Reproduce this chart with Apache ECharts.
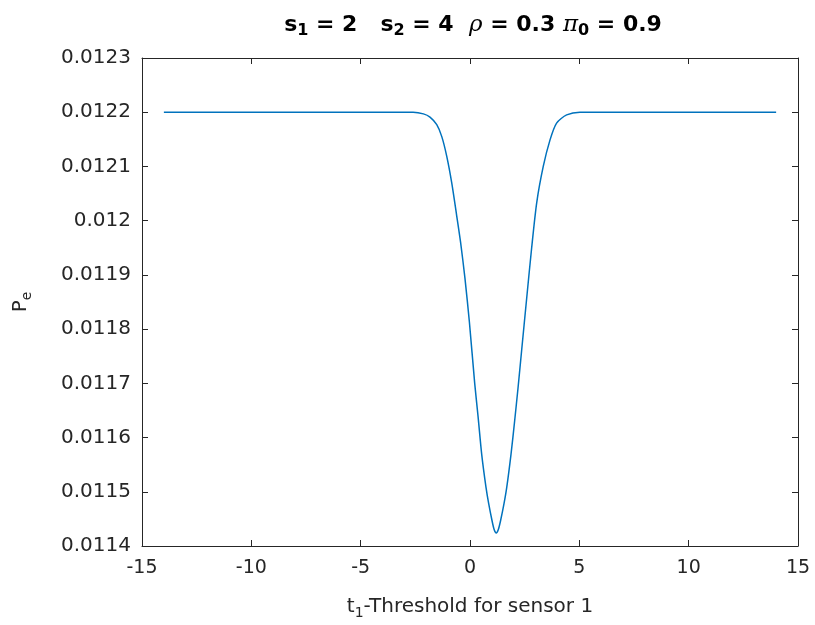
<!DOCTYPE html>
<html>
<head>
<meta charset="utf-8">
<script src="https://cdn.jsdelivr.net/npm/echarts@6/dist/echarts.min.js"></script>
<style>
  html, body { margin: 0; padding: 0; background: #fff; }
  #chart { width: 815px; height: 625px; }
</style>
</head>
<body>
<div id="chart"></div>
<script>
// threshold t1 and error probability
const t1Values = [-14, -10, -6, -4, -3, -2.6, -2.13, -1.83, -1.52, -1.29, -1.065, -0.837, -0.608, -0.43,
  -0.229, -0.03, 0.215, 0.366, 0.535, 0.732, 0.855, 1.006, 1.1, 1.2, 1.3, 1.4, 1.555, 1.68, 1.875, 2.04,
  2.195, 2.36, 2.59, 2.82, 3.05, 3.35, 3.66, 3.96, 4.42, 5.03, 6, 10, 14]
const peValues = [0.0122, 0.0122, 0.0122, 0.0122, 0.0122, 0.0122, 0.012197, 0.012191, 0.012177, 0.012155,
  0.012119, 0.012070, 0.012009, 0.011960, 0.011893, 0.011814, 0.011700, 0.011640, 0.011569, 0.011508,
  0.011478, 0.011447, 0.011431, 0.011424, 0.011431, 0.011447, 0.011478, 0.011508, 0.011569, 0.011630,
  0.011691, 0.011760, 0.011856, 0.011950, 0.012033, 0.012100, 0.012149, 0.012180, 0.012195, 0.0122,
  0.0122, 0.0122, 0.0122]
const xTicks = [-15, -10, -5, 0, 5, 10, 15]
const yTickLabels = ['0.0114', '0.0115', '0.0116', '0.0117', '0.0118', '0.0119', '0.012', '0.0121', '0.0122', '0.0123']

const axisColor = '#262626'
const fontFamily = '"DejaVu Sans", Helvetica, Arial, sans-serif'

const chart = echarts.init(document.getElementById('chart'))

const boxAxis = {
  axisLine: { show: true, onZero: false, lineStyle: { color: axisColor, width: 1 } },
  axisTick: { show: true, inside: true, length: 6, lineStyle: { color: axisColor } },
  splitLine: { show: false }
}

chart.setOption({
  animation: false,
  title: {
    left: 468,
    textAlign: 'center',
    top: 6,
    text: '{b|s}{sub|1}{b| = 2   s}{sub|2}{b| = 4  }{g|ρ}{b| = 0.3 }{g|π}{sub|0}{b| = 0.9}',
    textStyle: {
      rich: {
        b: { fontSize: 22, fontWeight: 'bold', color: '#000', fontFamily: fontFamily },
        g: { fontSize: 23, fontStyle: 'italic', fontWeight: 'normal', color: '#000', fontFamily: '"DejaVu Serif", serif' },
        sub: { fontSize: 16, fontWeight: 'bold', color: '#000', fontFamily: fontFamily, padding: [12, 0, 0, 0] }
      }
    }
  },
  grid: { left: 142, right: 17, top: 58, bottom: 76 },
  xAxis: [{
    type: 'value',
    min: -15, max: 15, interval: 5,
    ...boxAxis,
    axisLabel: {
      color: axisColor, fontSize: 19, fontFamily: fontFamily, margin: 13,
      formatter: v => xTicks.includes(v) ? String(v) : ''
    },
    name: '{n|t}{sub|1}{n|-Threshold for sensor 1}',
    nameLocation: 'middle',
    nameGap: 48,
    nameTextStyle: {
      rich: {
        n: { fontSize: 20, color: axisColor, fontFamily: fontFamily },
        sub: { fontSize: 14, color: axisColor, fontFamily: fontFamily, padding: [12, 0, 0, 0] }
      }
    }
  }, {
    type: 'value', position: 'top',
    min: -15, max: 15, interval: 5,
    ...boxAxis,
    axisLabel: { show: false }
  }],
  yAxis: [{
    type: 'value',
    min: 0.0114, max: 0.0123, interval: 0.0001,
    ...boxAxis,
    axisLabel: {
      color: axisColor, fontSize: 20, fontFamily: fontFamily, margin: 11,
      formatter: (v, i) => yTickLabels[i]
    },
    name: '{n|P}{sub|e}',
    nameLocation: 'middle',
    nameRotate: 90,
    nameGap: 108,
    nameTextStyle: {
      rich: {
        n: { fontSize: 20, color: axisColor, fontFamily: fontFamily },
        sub: { fontSize: 14, color: axisColor, fontFamily: fontFamily, padding: [12, 0, 0, 0] }
      }
    }
  }, {
    type: 'value', position: 'right',
    min: 0.0114, max: 0.0123, interval: 0.0001,
    ...boxAxis,
    axisLabel: { show: false }
  }],
  series: [{
    type: 'line',
    data: t1Values.map((t, i) => [t, peValues[i]]),
    showSymbol: false,
    smooth: 0.25,
    lineStyle: { color: '#0072BD', width: 1.5 },
    itemStyle: { color: '#0072BD' }
  }]
})
</script>
</body>
</html>
